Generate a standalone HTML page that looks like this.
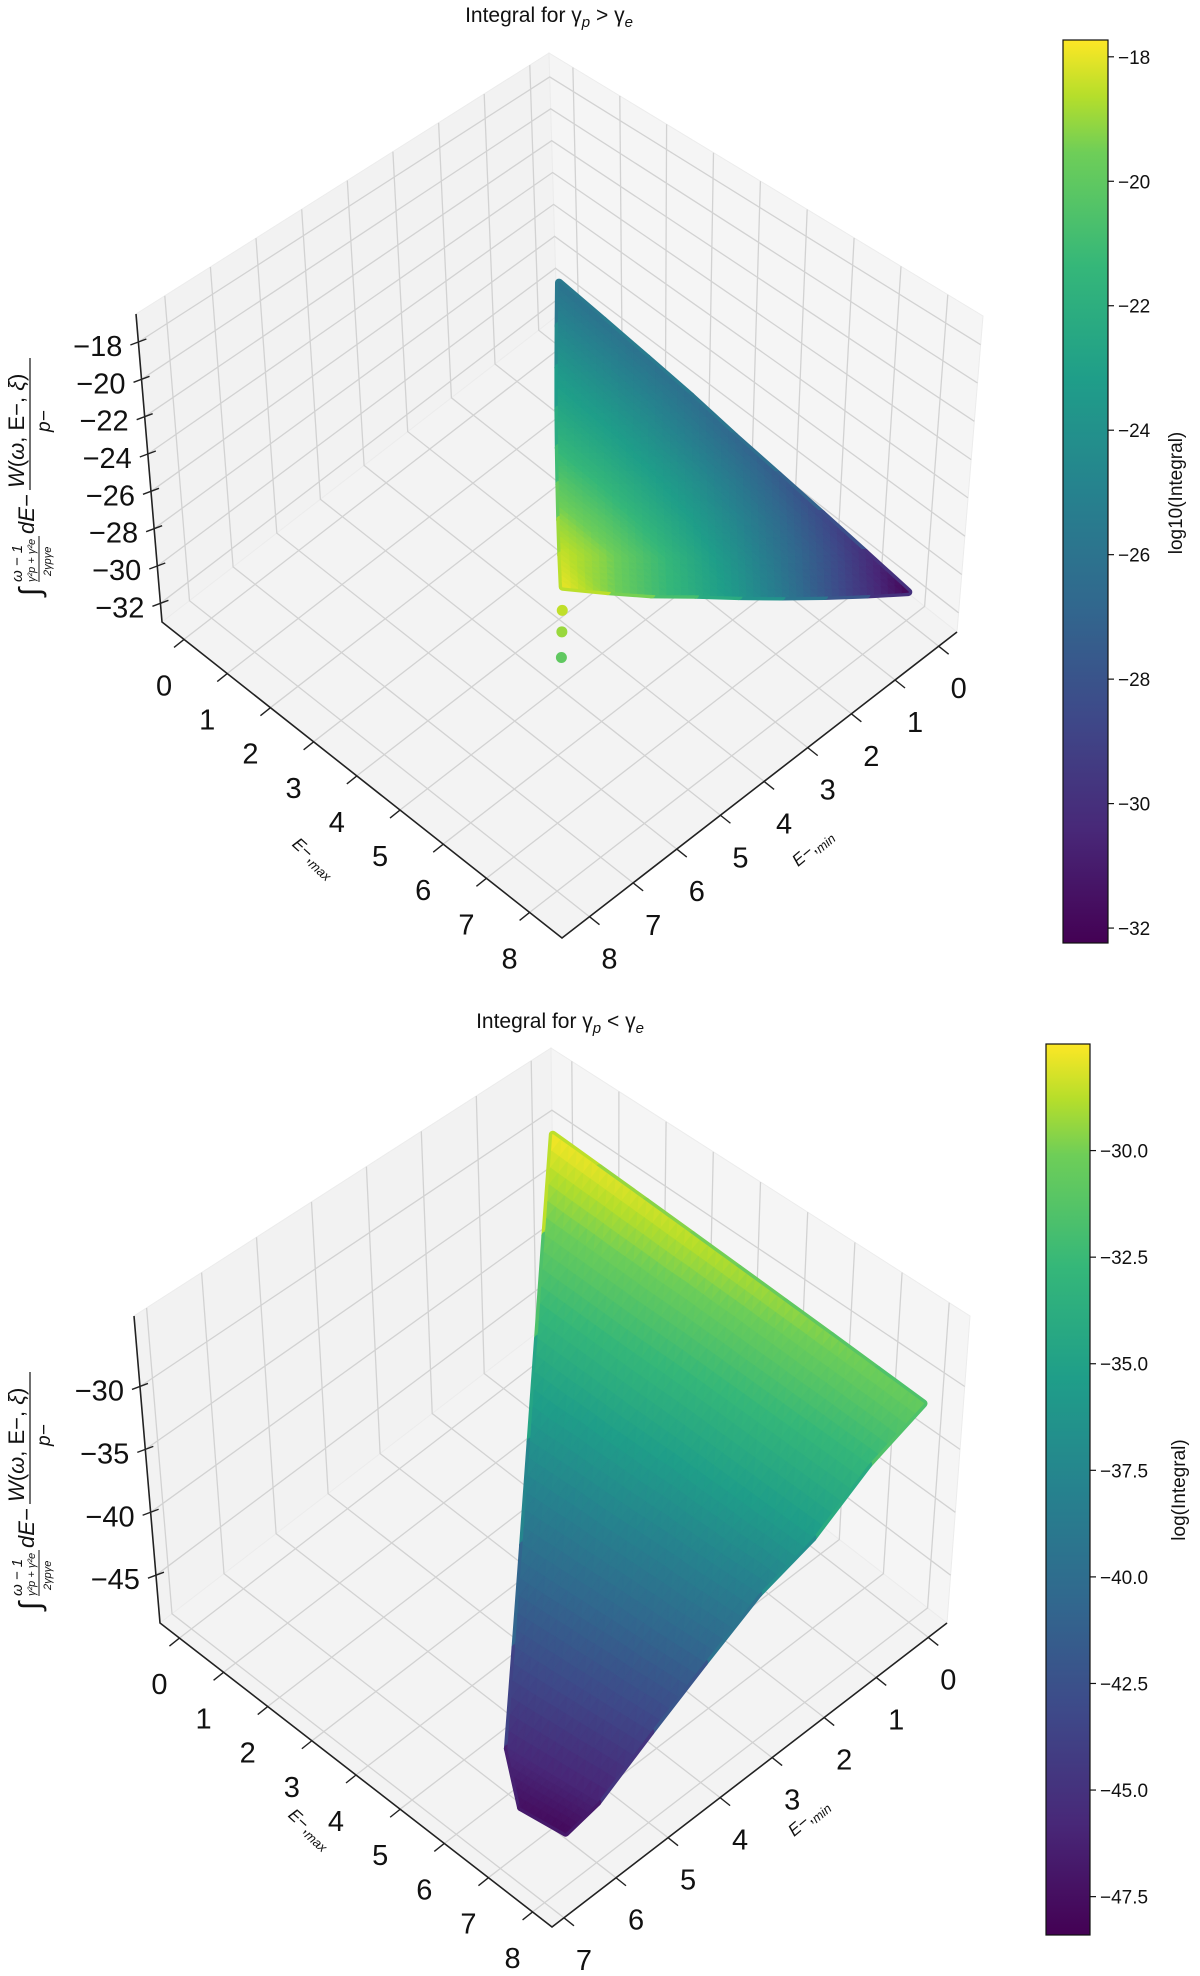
<!DOCTYPE html>
<html><head><meta charset="utf-8">
<style>
html,body{margin:0;padding:0;background:#fff;}
svg{display:block;font-family:"Liberation Sans","DejaVu Sans",sans-serif;}
</style></head>
<body>
<svg id="fig" width="1200" height="1976" viewBox="0 0 1200 1976" xmlns="http://www.w3.org/2000/svg">
  <g id="top-chart"></g>
  <g id="bottom-chart"></g>
</svg>
<script>
// ---------- TOP chart data (gamma_p > gamma_e) ----------
const topEmin = [0,1,2,3,4,5,6,7,8];
const topEmax = [0,1,2,3,4,5,6,7,8];
const topZ = [
 [-29.0,-29.3,-29.6,-29.9,-30.3,-30.6,-30.9,-31.2,-31.5],
 [null,-27.7,-28.0,-28.3,-28.7,-29.0,-29.3,-29.6,-29.9],
 [null,null,-26.4,-26.8,-27.1,-27.4,-27.7,-28.0,-28.3],
 [null,null,null,-25.2,-25.5,-25.8,-26.1,-26.4,-26.7],
 [null,null,null,null,-23.9,-24.2,-24.5,-24.8,-25.1],
 [null,null,null,null,null,-22.6,-22.9,-23.2,-23.5],
 [null,null,null,null,null,null,-21.3,-21.6,-22.0],
 [null,null,null,null,null,null,null,-20.1,-20.4],
 [null,null,null,null,null,null,null,null,-18.8]
];
const topC = [
 [-26.0,-26.0,-26.1,-26.3,-26.8,-27.5,-28.5,-30.0,-32.0],
 [null,-24.8,-24.8,-24.9,-25.2,-25.7,-26.6,-27.9,-29.8],
 [null,null,-23.6,-23.6,-23.8,-24.1,-24.8,-26.0,-27.8],
 [null,null,null,-22.6,-22.6,-22.8,-23.2,-24.1,-25.6],
 [null,null,null,null,-21.5,-21.5,-21.8,-22.4,-23.7],
 [null,null,null,null,null,-20.2,-20.3,-20.8,-22.2],
 [null,null,null,null,null,null,-19.1,-19.3,-20.8],
 [null,null,null,null,null,null,null,-18.4,-19.3],
 [null,null,null,null,null,null,null,null,-18.0]
];
const topOutEmin = [8,8,8];
const topOutEmax = [8,8,8];
const topOutZ = [-19.9,-20.9,-22.1];
const topOutC = [-18.5,-19.0,-20.0];
const topEmaxTicks = [0,1,2,3,4,5,6,7,8];
const topEminTicks = [0,1,2,3,4,5,6,7,8];
const topZTicks = [-18,-20,-22,-24,-26,-28,-30,-32];
const topCbarTicks = [-18,-20,-22,-24,-26,-28,-30,-32];

// ---------- BOTTOM chart data (gamma_p < gamma_e) ----------
const botEmin = [0,1,2,3,4,5,6,6.6];
const botEmax = [0,1,2,3,4,5,6,7,8];
const botZ = [
 [-29.8,-30.0,-30.2,-30.4,-30.6,-30.8,-31.0,-31.2,-31.4],
 [null,-32.7,-32.8,-32.9,-32.9,-33.0,-33.1,-33.2,-33.3],
 [null,null,-35.6,-35.7,-35.8,-35.8,-35.9,-36.0,-36.1],
 [null,null,null,-38.3,-38.1,-38.0,-37.8,-37.7,-37.5],
 [null,null,null,null,-40.9,-40.6,-40.3,-40.1,-39.8],
 [null,null,null,null,null,-43.3,-42.9,-42.5,-42.1],
 [null,null,null,null,null,null,-45.4,-44.9,-44.4],
 [null,null,null,null,null,null,null,-45.5,-44.9]
];
const botC = [
 [-27.6,-27.9,-28.2,-28.5,-28.9,-29.3,-29.7,-30.1,-30.5],
 [null,-30.5,-30.8,-31.2,-31.5,-31.9,-32.2,-32.6,-32.9],
 [null,null,-33.5,-33.9,-34.2,-34.6,-34.9,-35.3,-35.6],
 [null,null,null,-36.5,-36.9,-37.2,-37.6,-37.9,-38.3],
 [null,null,null,null,-39.6,-40.0,-40.3,-40.7,-41.0],
 [null,null,null,null,null,-42.6,-42.9,-43.3,-43.6],
 [null,null,null,null,null,null,-45.5,-45.9,-46.2],
 [null,null,null,null,null,null,null,-47.4,-47.8]
];
const botEmaxTicks = [0,1,2,3,4,5,6,7,8];
const botEminTicks = [0,1,2,3,4,5,6,7];
const botZTicks = [-30,-35,-40,-45];
const botCbarTicks = [-30.0,-32.5,-35.0,-37.5,-40.0,-42.5,-45.0,-47.5];

// ---------- helpers ----------
const NS = "http://www.w3.org/2000/svg";
const VIR = [[0,"#440154"],[0.125,"#482878"],[0.25,"#3e4989"],[0.375,"#31688e"],[0.5,"#26828e"],[0.625,"#1f9e89"],[0.75,"#35b779"],[0.875,"#6ece58"],[0.9375,"#b5de2b"],[1,"#fde725"]];
function hex2(h){return [parseInt(h.substr(1,2),16),parseInt(h.substr(3,2),16),parseInt(h.substr(5,2),16)];}
function viridis(t){
  t=Math.max(0,Math.min(1,t));
  for(let k=0;k<VIR.length-1;k++){
    if(t<=VIR[k+1][0]){
      const a=hex2(VIR[k][1]),b=hex2(VIR[k+1][1]);const f=(t-VIR[k][0])/(VIR[k+1][0]-VIR[k][0]);
      return "rgb("+a.map((x,i)=>Math.round(x+(b[i]-x)*f)).join(",")+")";
    }
  }
  return VIR[VIR.length-1][1];
}
function mk(tag,attrs,parent){const e=document.createElementNS(NS,tag);for(const k in attrs)e.setAttribute(k,attrs[k]);parent.appendChild(e);return e;}
function fmt(v,dec){const s=Math.abs(v).toFixed(dec);return (v<0?"\u2212":"")+s;}

function drawChart(g, cfg){
  const K=cfg.K,R=cfg.R,L=cfg.L,HK=cfg.HK,HR=cfg.HR,HL=cfg.HL;
  const HF=[HL[0]+HR[0]-HK[0],HL[1]+HR[1]-HK[1]];
  const uS=e=>(e-cfg.umin)/(cfg.umax-cfg.umin);
  const vS=e=>(e-cfg.vmin)/(cfg.vmax-cfg.vmin);
  const wS=z=>(z-cfg.zmin)/(cfg.zmax-cfg.zmin);
  function P(u,v,w){
    const fx=K[0]+u*(R[0]-K[0])+v*(L[0]-K[0]);
    const fy=K[1]+u*(R[1]-K[1])+v*(L[1]-K[1]);
    const hx=HK[0]*(1-u)*(1-v)+HR[0]*u*(1-v)+HL[0]*(1-u)*v+HF[0]*u*v;
    const hy=HK[1]*(1-u)*(1-v)+HR[1]*u*(1-v)+HL[1]*(1-u)*v+HF[1]*u*v;
    return [fx+w*hx,fy+w*hy];
  }
  const pts=a=>a.map(p=>p[0].toFixed(1)+","+p[1].toFixed(1)).join(" ");
  const col=c=>viridis((c-cfg.cmin)/(cfg.cmax-cfg.cmin));

  const t=mk("text",{x:cfg.titleX,y:cfg.titleY,"text-anchor":"middle","font-size":"21",fill:"#111"},g);
  
  
  t.innerHTML='Integral for γ<tspan font-size="15" font-style="italic" dy="5">p</tspan><tspan dy="-5"> '+cfg.rel+' γ</tspan><tspan font-size="15" font-style="italic" dy="5">e</tspan>';

  const lw=mk("polygon",{points:pts([P(0,0,1),P(0,1,1),P(0,1,0),P(0,0,0)]),fill:"#f2f2f2",stroke:"#ececec"},g);
  
  
  const rw=mk("polygon",{points:pts([P(0,0,1),P(1,0,1),P(1,0,0),P(0,0,0)]),fill:"#f5f5f5",stroke:"#ececec"},g);
  
  
  const fl=mk("polygon",{points:pts([P(0,0,0),P(1,0,0),P(1,1,0),P(0,1,0)]),fill:"#f3f3f3",stroke:"#ececec"},g);
  
  

  const gg=mk("g",{stroke:"#d2d2d2","stroke-width":"1.3",fill:"none"},g);
  
  
  cfg.emaxTicks.forEach(e=>{const u=uS(e);
    mk("polyline",{points:pts([P(u,1,0),P(u,0,0),P(u,0,1)])},gg);});
  cfg.eminTicks.forEach(e=>{const v=vS(e);
    mk("polyline",{points:pts([P(1,v,0),P(0,v,0),P(0,v,1)])},gg);});
  cfg.zTicks.forEach(z=>{const w=wS(z);
    mk("polyline",{points:pts([P(0,1,w),P(0,0,w),P(1,0,w)])},gg);});

  const ax=mk("g",{stroke:"#222","stroke-width":"1.6",fill:"none"},g);
  
  
  mk("polyline",{points:pts([P(0,1,1),P(0,1,0),P(1,1,0),P(1,0,0)])},ax);
  const tl=mk("g",{"font-size":"29",fill:"#111"},g);
  
  
  cfg.emaxTicks.forEach(e=>{const p=P(uS(e),1,0);
    mk("line",{x1:p[0],y1:p[1],x2:p[0]-10,y2:p[1]+8,stroke:"#222","stroke-width":"1.4"},ax);
    const tx=mk("text",{x:p[0]-20,y:p[1]+56,"text-anchor":"middle"},tl);tx.textContent=e;
    
    });
  cfg.eminTicks.forEach(e=>{const p=P(1,vS(e),0);
    mk("line",{x1:p[0],y1:p[1],x2:p[0]+10,y2:p[1]+8,stroke:"#222","stroke-width":"1.4"},ax);
    const tx=mk("text",{x:p[0]+20,y:p[1]+52,"text-anchor":"middle"},tl);tx.textContent=e;
    
    });
  cfg.zTicks.forEach(z=>{const p=P(0,1,wS(z));
    mk("line",{x1:p[0]-8,y1:p[1]+3,x2:p[0]+8,y2:p[1]-3,stroke:"#222","stroke-width":"1.4"},ax);
    const tx=mk("text",{x:p[0]-16,y:p[1]+14,"text-anchor":"end"},tl);tx.textContent=fmt(z,0);
    
    });

  const xl=mk("text",{x:cfg.emaxLab[0],y:cfg.emaxLab[1],"font-size":"17","font-style":"italic",fill:"#111",transform:"rotate(42 "+cfg.emaxLab[0]+" "+cfg.emaxLab[1]+")","text-anchor":"middle"},g);
  xl.innerHTML='E<tspan font-style="normal">−,</tspan><tspan font-size="13" dy="4">max</tspan>';
  
  
  const yl=mk("text",{x:cfg.eminLab[0],y:cfg.eminLab[1],"font-size":"17","font-style":"italic",fill:"#111",transform:"rotate(-40 "+cfg.eminLab[0]+" "+cfg.eminLab[1]+")","text-anchor":"middle"},g);
  yl.innerHTML='E<tspan font-style="normal">−,</tspan><tspan font-size="13" dy="4">min</tspan>';
  
  
  const zl=mk("g",{transform:"translate("+cfg.zLab[0]+" "+cfg.zLab[1]+") rotate(-90)"},g);
  
  
  zl.innerHTML='<text x="-120" y="8" font-size="30" fill="#111">∫</text>'+
   '<text x="-106" y="-10" font-size="15" font-style="italic" fill="#111">ω − 1</text>'+
   '<text x="-106" y="3" font-size="11" font-style="italic" fill="#111">γ²p + γ²e</text>'+
   '<line x1="-106" y1="7" x2="-60" y2="7" stroke="#111" stroke-width="1"/>'+
   '<text x="-100" y="19" font-size="11" font-style="italic" fill="#111">2γpγe</text>'+
   '<text x="-58" y="2" font-size="22" font-style="italic" fill="#111">dE−</text>'+
   '<line x1="-14" y1="-2" x2="118" y2="-2" stroke="#111" stroke-width="1.2"/>'+
   '<text x="-12" y="-8" font-size="22" fill="#111"><tspan font-style="italic">W</tspan>(<tspan font-style="italic">ω</tspan>, E−, <tspan font-style="italic">ξ</tspan>)</text>'+
   '<text x="44" y="18" font-size="19" font-style="italic" fill="#111">p−</text>';

  const sg=mk("g",{"stroke-linejoin":"round"},g);
  
  
  const bg=mk("g",{"stroke-linejoin":"round"},sg);
  const fg=mk("g",{"stroke-linejoin":"round"},sg);
  const tris=[];
  const NSUB=6;
  for(let i=0;i<cfg.emin.length-1;i++){
    for(let j=0;j<cfg.emax.length-1;j++){
      const nodes=[[i,j],[i,j+1],[i+1,j+1],[i+1,j]].filter(n=>cfg.Z[n[0]][n[1]]!==null&&cfg.Z[n[0]][n[1]]!==undefined);
      if(nodes.length<3)continue;
      const q=nodes.map(n=>({u:uS(cfg.emax[n[1]]),v:vS(cfg.emin[n[0]]),w:wS(cfg.Z[n[0]][n[1]]),c:cfg.C[n[0]][n[1]]}));
      const cv=q.reduce((s,n)=>s+n.c,0)/q.length;
      const outline=mk("polygon",{points:pts(q.map(n=>P(n.u,n.v,n.w))),fill:col(cv),stroke:col(cv),"stroke-width":"8"},bg);
      
      
      for(let f=1;f<q.length-1;f++){
        const A=q[0],B=q[f],C=q[f+1];
        const lerp=(s,t)=>{const r={};['u','v','w','c'].forEach(k=>r[k]=A[k]+(B[k]-A[k])*s+(C[k]-A[k])*t);return r;};
        for(let a=0;a<NSUB;a++){
          for(let b=0;b<NSUB-a;b++){
            const s0=a/NSUB,t0=b/NSUB,d=1/NSUB;
            tris.push([lerp(s0,t0),lerp(s0+d,t0),lerp(s0,t0+d)]);
            if(b<NSUB-a-1) tris.push([lerp(s0+d,t0),lerp(s0+d,t0+d),lerp(s0,t0+d)]);
          }
        }
      }
    }
  }
  tris.forEach(tr=>{tr.depth=(tr[0].u+tr[0].v+tr[1].u+tr[1].v+tr[2].u+tr[2].v)/3;});
  tris.sort((a,b)=>a.depth-b.depth);
  tris.forEach(tr=>{
    const c=col((tr[0].c+tr[1].c+tr[2].c)/3);
    const p=mk("polygon",{points:pts(tr.map(n=>P(n.u,n.v,n.w))),fill:c,stroke:c,"stroke-width":"1.2"},fg);
    
    
  });
  if(cfg.outE){
    cfg.outE.forEach((e,k)=>{
      const p=P(uS(cfg.outEmax[k]),vS(e),wS(cfg.outZ[k]));
      const c=mk("circle",{cx:p[0],cy:p[1],r:5.5,fill:col(cfg.outC[k])},sg);
      
      
    });
  }

  const cb=mk("g",{},g);
  
  
  const gid="grad"+cfg.id;
  const defs=mk("defs",{},cb);
  const lg=mk("linearGradient",{id:gid,x1:"0",y1:"1",x2:"0",y2:"0"},defs);
  VIR.forEach(s=>mk("stop",{offset:s[0],"stop-color":s[1]},lg));
  const b=cfg.cbar;
  mk("rect",{x:b.x,y:b.y,width:b.w,height:b.h,fill:"url(#"+gid+")",stroke:"#111","stroke-width":"1.2"},cb);
  cfg.cbarTicks.forEach(v=>{
    const y=b.y+b.h*(cfg.cmax-v)/(cfg.cmax-cfg.cmin);
    mk("line",{x1:b.x+b.w,y1:y,x2:b.x+b.w+6,y2:y,stroke:"#111","stroke-width":"1.2"},cb);
    const tx=mk("text",{x:b.x+b.w+10,y:y+7,"font-size":"19",fill:"#111"},cb);
    tx.textContent=fmt(v,cfg.cbDec);
    
    
  });
  const cl=mk("text",{x:cfg.cbLab[0],y:cfg.cbLab[1],"font-size":"19",fill:"#111","text-anchor":"middle",transform:"rotate(-90 "+cfg.cbLab[0]+" "+cfg.cbLab[1]+")"},cb);
  cl.textContent=cfg.cbLabel;
  
  
}

drawChart(document.getElementById("top-chart"),{
  id:"top",rel:">",titleX:549,titleY:22,
  K:[557,316],R:[957,632],L:[162,622],HK:[-8,-263],HR:[26,-316],HL:[-26,-308],
  umin:-0.51,umax:8.75,vmin:-0.42,vmax:8.63,zmin:-33.0,zmax:-16.5,
  cmin:-32.24,cmax:-17.73,
  emin:topEmin,emax:topEmax,Z:topZ,C:topC,
  outE:topOutEmin,outEmax:topOutEmax,outZ:topOutZ,outC:topOutC,
  emaxTicks:topEmaxTicks,eminTicks:topEminTicks,zTicks:topZTicks,cbarTicks:topCbarTicks,cbDec:0,
  emaxLab:[310,862],eminLab:[816,852],zLab:[32,476],
  cbar:{x:1063,y:40,w:45,h:903},cbLab:[1182,493],cbLabel:"log10(Integral)"
});
drawChart(document.getElementById("bottom-chart"),{
  id:"bot",rel:"<",titleX:560,titleY:1028,
  K:[555,1319],R:[947,1623],L:[160,1623],HK:[-4,-271],HR:[23,-307],HL:[-26,-307],
  umin:-0.44,umax:8.44,vmin:-0.36,vmax:7.23,zmin:-48.8,zmax:-24.4,
  cmin:-48.4,cmax:-27.5,
  emin:botEmin,emax:botEmax,Z:botZ,C:botC,
  emaxLab:[306,1833],eminLab:[812,1822],zLab:[32,1490],
  emaxTicks:botEmaxTicks,eminTicks:botEminTicks,zTicks:botZTicks,cbarTicks:botCbarTicks,cbDec:1,
  cbar:{x:1046,y:1044,w:44,h:891},cbLab:[1185,1490],cbLabel:"log(Integral)"
});
</script>
</body></html>
